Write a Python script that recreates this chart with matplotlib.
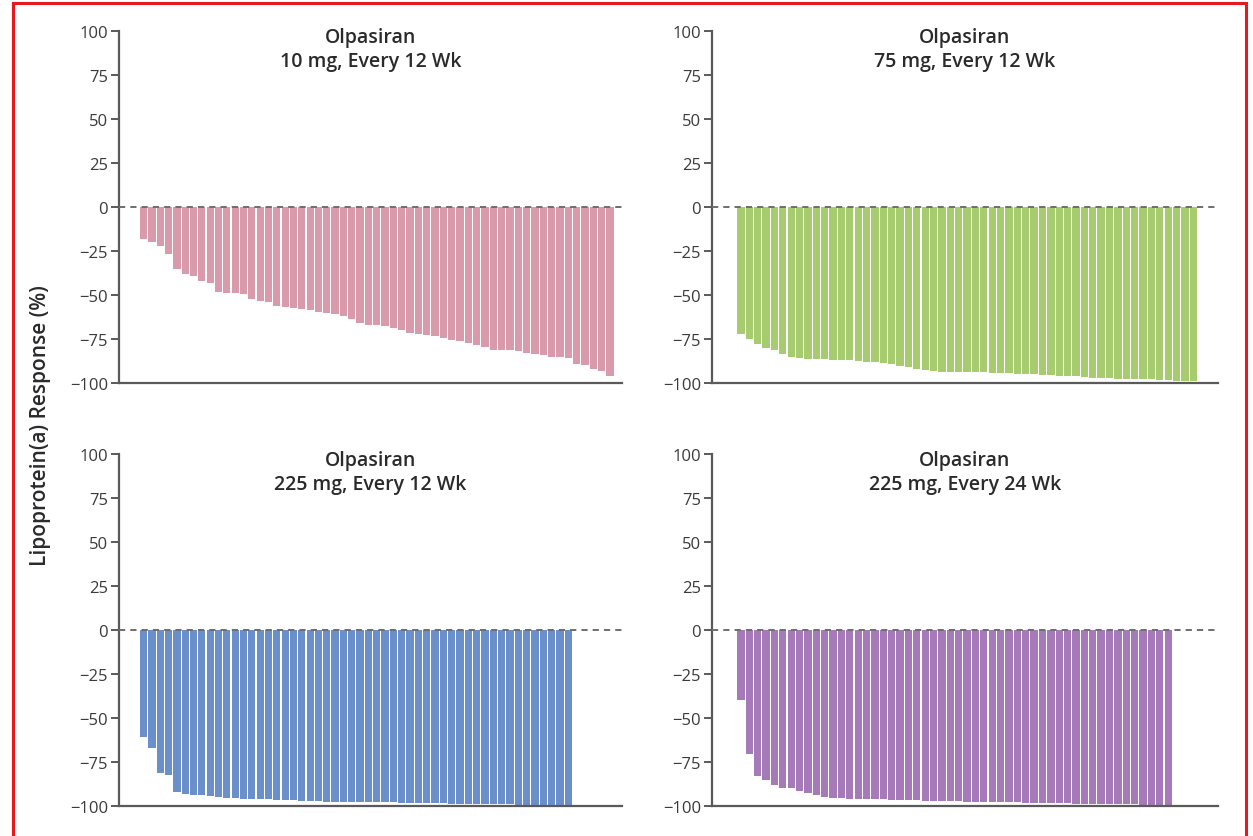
import matplotlib
matplotlib.use("Agg")
import matplotlib.pyplot as plt
from matplotlib.patches import Rectangle

# Percent change in lipoprotein(a), one bar per patient, sorted
dose_10mg_q12 = [-18, -20, -22, -26.5, -35, -38, -39, -42, -43, -48.5,
                 -49, -49, -49.5, -52, -53.5, -54, -56, -57, -57.5, -58,
                 -58.5, -59.5, -60.5, -61, -62, -63.5, -66, -67, -67, -67.5,
                 -69, -70, -71.5, -72, -73, -73.5, -74.5, -75.5, -76, -77.5,
                 -78.5, -79.5, -81, -81, -81.5, -82, -83, -83.5, -84, -85.5,
                 -85.5, -86, -89, -89.5, -92, -93, -96]
dose_75mg_q12 = [-72, -75, -78, -80, -81, -83.5, -85.5, -86, -86.5, -86.5,
                 -86.5, -87, -87, -87, -87.5, -88, -88, -88.5, -89, -90.5,
                 -91, -92, -92.5, -93, -93.5, -93.5, -94, -94, -94, -94,
                 -94.5, -94.5, -94.5, -95, -95, -95, -95.5, -95.5, -96, -96,
                 -96, -96.5, -97, -97, -97, -97.5, -97.5, -98, -98, -98,
                 -98.5, -98.5, -99, -99, -99]
dose_225mg_q12 = [-61, -67, -81, -82.5, -92, -93, -93.5, -94, -94.5, -95,
                  -95.5, -95.5, -96, -96, -96.2, -96.3, -96.5, -96.5, -96.6, -97,
                  -97.2, -97.3, -97.5, -97.5, -97.5, -97.6, -97.7, -97.8, -98, -98,
                  -98, -98.1, -98.2, -98.3, -98.4, -98.5, -98.5, -98.6, -98.7, -98.8,
                  -98.9, -99, -99, -99, -99.1, -99.2, -99.3, -99.4, -99.5, -99.5,
                  -99.6, -99.7]
dose_225mg_q24 = [-40, -70.5, -83, -85.5, -88, -89.5, -90, -91.5, -92.5, -94,
                  -95, -95.5, -95.5, -96, -96, -96, -96.2, -96.3, -96.5, -96.5,
                  -96.6, -96.8, -97, -97, -97, -97.2, -97.3, -97.5, -97.5, -97.6,
                  -97.8, -98, -98, -98, -98.1, -98.2, -98.3, -98.4, -98.5, -98.5,
                  -98.6, -98.7, -98.8, -98.9, -99, -99, -99, -99.1, -99.2, -99.3,
                  -99.4, -99.5]

panel_titles = ["Olpasiran\n10 mg, Every 12 Wk", "Olpasiran\n75 mg, Every 12 Wk",
                "Olpasiran\n225 mg, Every 12 Wk", "Olpasiran\n225 mg, Every 24 Wk"]
panel_data = [dose_10mg_q12, dose_75mg_q12, dose_225mg_q12, dose_225mg_q24]
panel_colors = ["#d99aac", "#a7cc6f", "#6a8fcb", "#a679b8"]
y_ticks = [100, 75, 50, 25, 0, -25, -50, -75, -100]
y_label = "Lipoprotein(a) Response (%)"

plt.rcParams["font.family"] = ["Open Sans", "DejaVu Sans"]

W, H = 1253, 837
fig = plt.figure(figsize=(W / 100, H / 100), dpi=100)

# axes boxes in pixels: left, top, right, bottom
boxes = [(119, 32, 622, 384), (712, 32, 1218, 384),
         (119, 455, 622, 807), (712, 455, 1218, 807)]
x_left = [-2.95, -3.45, -2.95, -3.45]

axis_grey = "#5a5a5a"
for box, data, color, title, xl in zip(boxes, panel_data, panel_colors,
                                       panel_titles, x_left):
    l, t, r, b = box
    ax = fig.add_axes([l / W, 1 - b / H, (r - l) / W, (b - t) / H])
    xs = list(range(len(data)))
    ax.bar(xs, data, width=0.87, color=color, edgecolor="none", zorder=2)
    ax.axhline(0, color="#6e6e6e", lw=1.4, ls=(0, (3.2, 2.6)), zorder=3)
    ax.set_xlim(xl, xl + 60.4)
    ax.set_ylim(-100, 100)
    ax.set_yticks(y_ticks)
    ax.set_yticklabels([str(v).replace("-", "\u2212") for v in y_ticks])
    ax.set_xticks([])
    for s in ("top", "right"):
        ax.spines[s].set_visible(False)
    for s in ("left", "bottom"):
        ax.spines[s].set_color(axis_grey)
        ax.spines[s].set_linewidth(1.6)
    ax.tick_params(axis="y", direction="out", length=6, width=1.4,
                   color=axis_grey, labelsize=12, labelcolor="#3a3a3a", pad=2)
    ax.text(0.5, 1.012, title, transform=ax.transAxes, ha="center", va="top",
            fontsize=14, fontweight="semibold", color="#2a2a2a",
            linespacing=1.3)

fig.text(41 / W, 1 - 426 / H, y_label, rotation=90, ha="center", va="center",
         fontsize=15, fontweight="semibold", color="#2a2a2a")

# red frame around the figure
fig.patches.append(Rectangle((13 / W, -0.05), (1246 - 13) / W, 1 - 4 / H + 0.05,
                             transform=fig.transFigure, fill=False,
                             edgecolor="#e8191e", lw=2.2, zorder=10))

fig.savefig("out.png", dpi=100, facecolor="white")
